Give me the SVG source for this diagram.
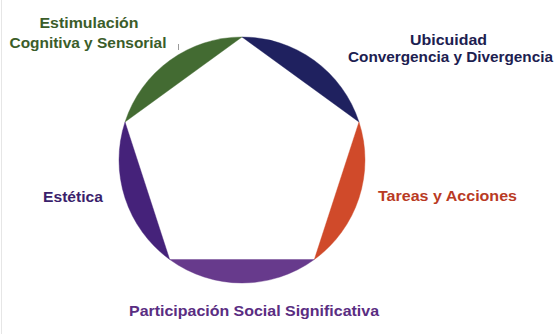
<svg xmlns="http://www.w3.org/2000/svg" width="555" height="334" viewBox="0 0 555 334">
  <style>
    .lbl { font-family: "Liberation Sans", Arial, sans-serif; font-weight: bold; font-size: 15px; text-anchor: middle; }
    .seg { stroke-width: 0.8; stroke-opacity: 0.5; }
  </style>
  <rect width="555" height="334" fill="#ffffff"/>
  <line x1="1.5" y1="0" x2="1.5" y2="334" stroke="#e6e6e6" stroke-width="1"/>

  <!-- circle segments cut off by the inscribed pentagon -->
  <g id="segments">
    <path id="seg-cognitiva" class="seg" d="M125.02 121.99 A123 123 0 0 1 242 37 Z" fill="#436b32" stroke="#436b32"/>
    <path id="seg-ubicuidad" class="seg" d="M242 37 A123 123 0 0 1 358.98 121.99 Z" fill="#1f215f" stroke="#1f215f"/>
    <path id="seg-tareas" class="seg" d="M358.98 121.99 A123 123 0 0 1 314.3 259.51 Z" fill="#d04a2a" stroke="#d04a2a"/>
    <path id="seg-participacion" class="seg" d="M314.3 259.51 A123 123 0 0 1 169.7 259.51 Z" fill="#673a8c" stroke="#673a8c"/>
    <path id="seg-estetica" class="seg" d="M169.7 259.51 A123 123 0 0 1 125.02 121.99 Z" fill="#45227a" stroke="#45227a"/>
  </g>

  <line x1="178.5" y1="44" x2="178.5" y2="50" stroke="#9a9a9a" stroke-width="1"/>

  <g id="label-cognitiva">
    <text class="lbl" x="89" y="28" fill="#3b5d2a" textLength="99" lengthAdjust="spacingAndGlyphs">Estimulación</text>
    <text class="lbl" x="88" y="48" fill="#3b5d2a" textLength="157" lengthAdjust="spacingAndGlyphs">Cognitiva y Sensorial</text>
  </g>
  <g id="label-ubicuidad">
    <text class="lbl" x="448.5" y="45" fill="#1c2050" textLength="77" lengthAdjust="spacingAndGlyphs">Ubicuidad</text>
    <text class="lbl" x="450.5" y="62" fill="#1c2050" textLength="205" lengthAdjust="spacingAndGlyphs">Convergencia y Divergencia</text>
  </g>
  <g id="label-tareas">
    <text class="lbl" x="447.5" y="201" fill="#b93a24" textLength="139" lengthAdjust="spacingAndGlyphs">Tareas y Acciones</text>
  </g>
  <g id="label-participacion">
    <text class="lbl" x="254" y="316" fill="#5a2d82" textLength="250" lengthAdjust="spacingAndGlyphs">Participación Social Significativa</text>
  </g>
  <g id="label-estetica">
    <text class="lbl" x="73" y="202" fill="#3b1f6c" textLength="60" lengthAdjust="spacingAndGlyphs">Estética</text>
  </g>
</svg>
